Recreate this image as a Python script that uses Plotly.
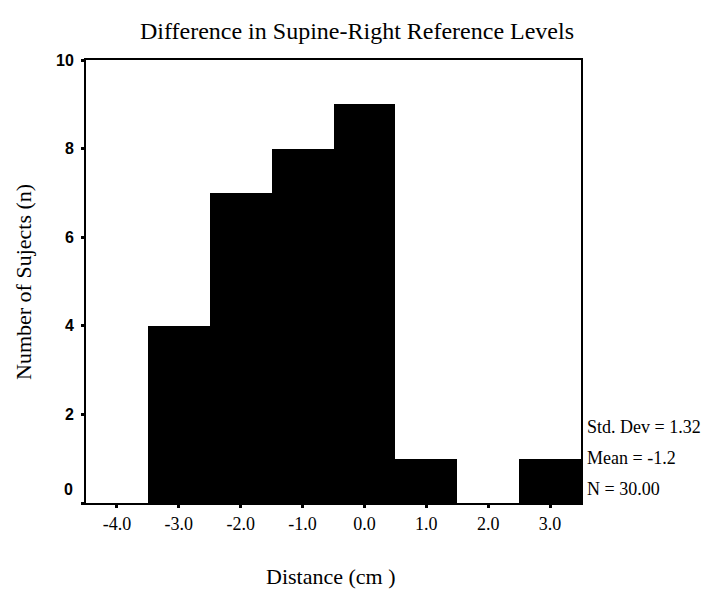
import plotly.graph_objects as go

bin_centers = [-3.0, -2.0, -1.0, 0.0, 1.0, 2.0, 3.0]
counts = [4, 7, 8, 9, 1, 0, 1]
x_tick_vals = [-4.0, -3.0, -2.0, -1.0, 0.0, 1.0, 2.0, 3.0]
x_tick_text = ["-4.0", "-3.0", "-2.0", "-1.0", "0.0", "1.0", "2.0", "3.0"]
y_tick_vals = [0, 2, 4, 6, 8, 10]
y_tick_text = ["", "2", "4", "6", "8", "10"]
y_zero_label = "0"
stats_lines = ["Std. Dev = 1.32", "Mean = -1.2", "N = 30.00"]

serif = "Liberation Serif, Times New Roman, serif"
sans = "Liberation Sans, Arial, sans-serif"

# page body has an 8px default margin; compensate so the plot lands at absolute pixels
OFF = 8
W, H = 711 - OFF, 590 - OFF
PL, PT, PR, PB = 86, 60, 581, 503          # absolute plot-area edges
L, T, R, B = PL - OFF, PT - OFF, 711 - PR, 590 - PB
pw, ph = PR - PL, PB - PT

fig = go.Figure()
fig.add_trace(go.Bar(
    x=bin_centers, y=counts, width=1.0,
    marker=dict(color="black", line=dict(width=0)),
    showlegend=False,
))

ytickfont = dict(family=sans, size=16, color="black", weight="bold")

fig.update_layout(
    width=W, height=H,
    margin=dict(l=L, r=R, t=T, b=B, autoexpand=False),
    paper_bgcolor="white", plot_bgcolor="white",
    bargap=0,
    title=dict(text="Difference in Supine-Right Reference Levels",
               x=(357 - OFF) / W, xanchor="center", y=1 - (31 - OFF) / H, yanchor="middle",
               font=dict(family=serif, size=24, color="black")),
    xaxis=dict(range=[-4.5, 3.5], tickvals=x_tick_vals, ticktext=x_tick_text,
               showline=True, linecolor="black", linewidth=2, mirror=True,
               ticks="outside", ticklen=3, tickwidth=3, tickcolor="black",
               showgrid=False, zeroline=False, automargin=False,
               tickfont=dict(family=serif, size=18, color="black")),
    yaxis=dict(range=[0, 10], tickvals=y_tick_vals, ticktext=y_tick_text,
               showline=True, linecolor="black", linewidth=2, mirror=True,
               ticks="outside", ticklen=3, tickwidth=3, tickcolor="black",
               showgrid=False, zeroline=False, automargin=False,
               ticklabelstandoff=4, tickfont=ytickfont),
)

# raised zero label, as in the original
fig.add_annotation(text=y_zero_label, x=0, xref="paper", xanchor="right", xshift=-11,
                   y=0, yref="y", yanchor="middle", yshift=14, showarrow=False,
                   font=ytickfont)

# axis titles
fig.add_annotation(text="Distance (cm )", x=(331 - PL) / pw, xref="paper",
                   y=-(576 - PB) / ph, yref="paper", xanchor="center", yanchor="middle",
                   showarrow=False, font=dict(family=serif, size=22, color="black"))
fig.add_annotation(text="Number of Sujects (n)", x=-(PL - 23) / pw, xref="paper",
                   y=(PB - 282) / ph, yref="paper", xanchor="center", yanchor="middle",
                   textangle=-90, showarrow=False,
                   font=dict(family=serif, size=22, color="black"))

stats_px = [427, 458, 489]
for txt, py in zip(stats_lines, stats_px):
    fig.add_annotation(text=txt, x=(585 - PL) / pw, xref="paper", xanchor="left",
                       y=(PB - py) / ph, yref="paper", yanchor="middle", showarrow=False,
                       font=dict(family=serif, size=18, color="black"))

fig.write_html("out.html")
